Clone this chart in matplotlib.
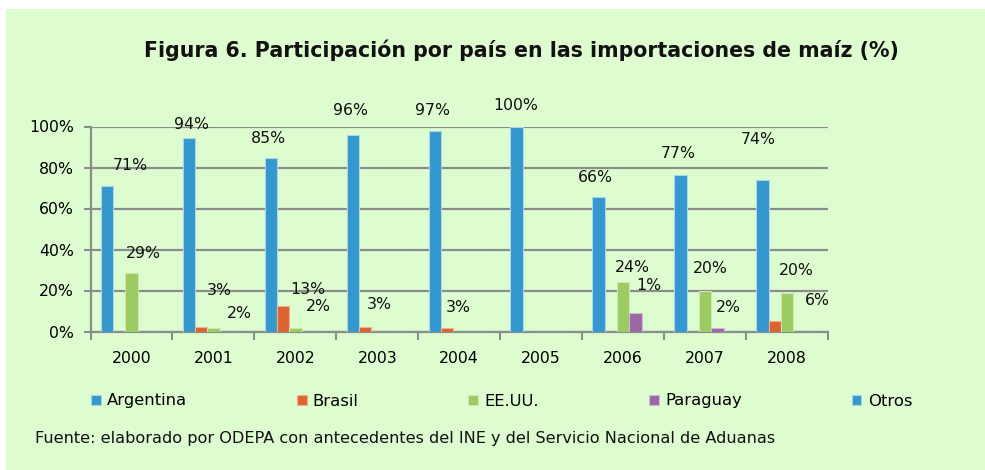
import matplotlib
matplotlib.use("Agg")
import matplotlib.pyplot as plt
import numpy as np
from matplotlib.patches import Rectangle

years = ["2000", "2001", "2002", "2003", "2004", "2005", "2006", "2007", "2008"]
series_names = ["Argentina", "Brasil", "EE.UU.", "Paraguay", "Otros"]
argentina = [71, 94.5, 84.5, 96, 98, 100, 65.5, 76.5, 74]
brasil = [0, 2.4, 12.6, 2.4, 1.7, 0, 0, 0, 5]
eeuu = [28.5, 1.7, 1.7, 0, 0, 0, 24, 20, 19]
paraguay = [0, 0, 0, 0, 0, 0, 9, 1.7, 0]
otros = [0, 0, 0, 0, 0, 0, 0, 0, 0]
yticks = [0, 20, 40, 60, 80, 100]

# data labels: (series index, year index, text)
labels = [
    (0, 0, "71%"), (0, 1, "94%"), (0, 2, "85%"), (0, 3, "96%"), (0, 4, "97%"),
    (0, 5, "100%"), (0, 6, "66%"), (0, 7, "77%"), (0, 8, "74%"),
    (2, 0, "29%"), (1, 1, "3%"), (2, 1, "2%"), (1, 2, "13%"), (2, 2, "2%"),
    (1, 3, "3%"), (1, 4, "3%"), (2, 6, "24%"), (3, 6, "1%"), (2, 7, "20%"),
    (3, 7, "2%"), (2, 8, "20%"), (1, 8, "6%"),
]
# label offsets in pixels (layout only)
label_offsets = [
    (23, 20), (3, 13), (-2, 20), (-2, 24), (-2, 20), (-1, 21), (-3, 20), (-2, 21), (-4, 40),
    (12, 20), (18, 36), (26, 15), (25, 16), (23, 22),
    (14, 22), (11, 21), (9, 15), (13, 28), (5, 22),
    (11, 21), (9, 22), (43, 21),
]

colors = ["#3498CE", "#DC6430", "#9BCB62", "#9B68A4", "#3498CE"]
edges = ["#A9D2EC", "#F0B090", "#D0E8B0", "#D0B8D8", "#A9D2EC"]
bg = "#DDFDD0"
W, H = 985, 470

fig = plt.figure(figsize=(W / 100, H / 100), dpi=100, facecolor="white")
fig.patches.append(Rectangle((6 / W, 0), 1 - 6 / W, 1 - 9 / H, transform=fig.transFigure,
                             facecolor=bg, edgecolor="none", zorder=-10))

ax = fig.add_axes([90.5 / W, 1 - 331.5 / H, (828 - 90.5) / W, (331.5 - 126.5) / H])
ax.set_facecolor(bg)
ax.patch.set_alpha(0)

data = [argentina, brasil, eeuu, paraguay, otros]
x = np.arange(len(years))
bw = 0.15
offs = [-0.3, -0.15, 0, 0.15, 0.3]
for i, (vals, c, e) in enumerate(zip(data, colors, edges)):
    ax.bar(x + offs[i], vals, width=bw, color=c, edgecolor=e, linewidth=0.8, zorder=3,
           label=series_names[i])

font = "DejaVu Sans"
for (si, yi, txt), (dx, dy) in zip(labels, label_offsets):
    ax.annotate(txt, (x[yi] + offs[si], data[si][yi]), xytext=(dx, dy),
                textcoords="offset pixels", ha="center", va="center",
                fontsize=11.3, family=font, color="#111111", zorder=5)

ax.set_xlim(-0.5, len(years) - 0.5)
ax.set_ylim(0, 100)
ax.set_yticks(yticks)
ax.set_yticklabels([f"{v}%" for v in yticks], fontsize=11.3, family=font)
ax.yaxis.grid(True, color="#8C8C8C", linewidth=1.6, zorder=0)
ax.set_axisbelow(True)
ax.set_xticks(x)
ax.set_xticklabels(years, fontsize=11.3, family=font)
ax.set_xticks(np.arange(len(years) + 1) - 0.5, minor=True)
ax.tick_params(axis="x", which="major", length=0, pad=14)
ax.tick_params(axis="x", which="minor", length=6, width=1.5, color="#8C8C8C")
ax.tick_params(axis="y", length=5, width=1.5, color="#8C8C8C", pad=7)
for s in ["top", "right"]:
    ax.spines[s].set_visible(False)
for s in ["left", "bottom"]:
    ax.spines[s].set_color("#8C8C8C")
    ax.spines[s].set_linewidth(1.6)

fig.text(521 / W, 1 - 50 / H, "Figura 6. Participación por país en las importaciones de maíz (%)",
         ha="center", va="center", fontsize=14.8, fontweight="bold", family=font, color="#111111")

handles, lbls = ax.get_legend_handles_labels()
leg = fig.legend(handles, lbls, loc="center left", bbox_to_anchor=(76 / W, 1 - 401 / H),
                 ncol=5, frameon=False, handlelength=0.6, handleheight=0.6,
                 handletextpad=0.38, columnspacing=6.7, prop={"family": font, "size": 11.8})

fig.text(35 / W, 1 - 438 / H,
         "Fuente: elaborado por ODEPA con antecedentes del INE y del Servicio Nacional de Aduanas",
         ha="left", va="center", fontsize=11.6, family=font, color="#111111")

fig.savefig("out.png", dpi=100, facecolor=fig.get_facecolor())
